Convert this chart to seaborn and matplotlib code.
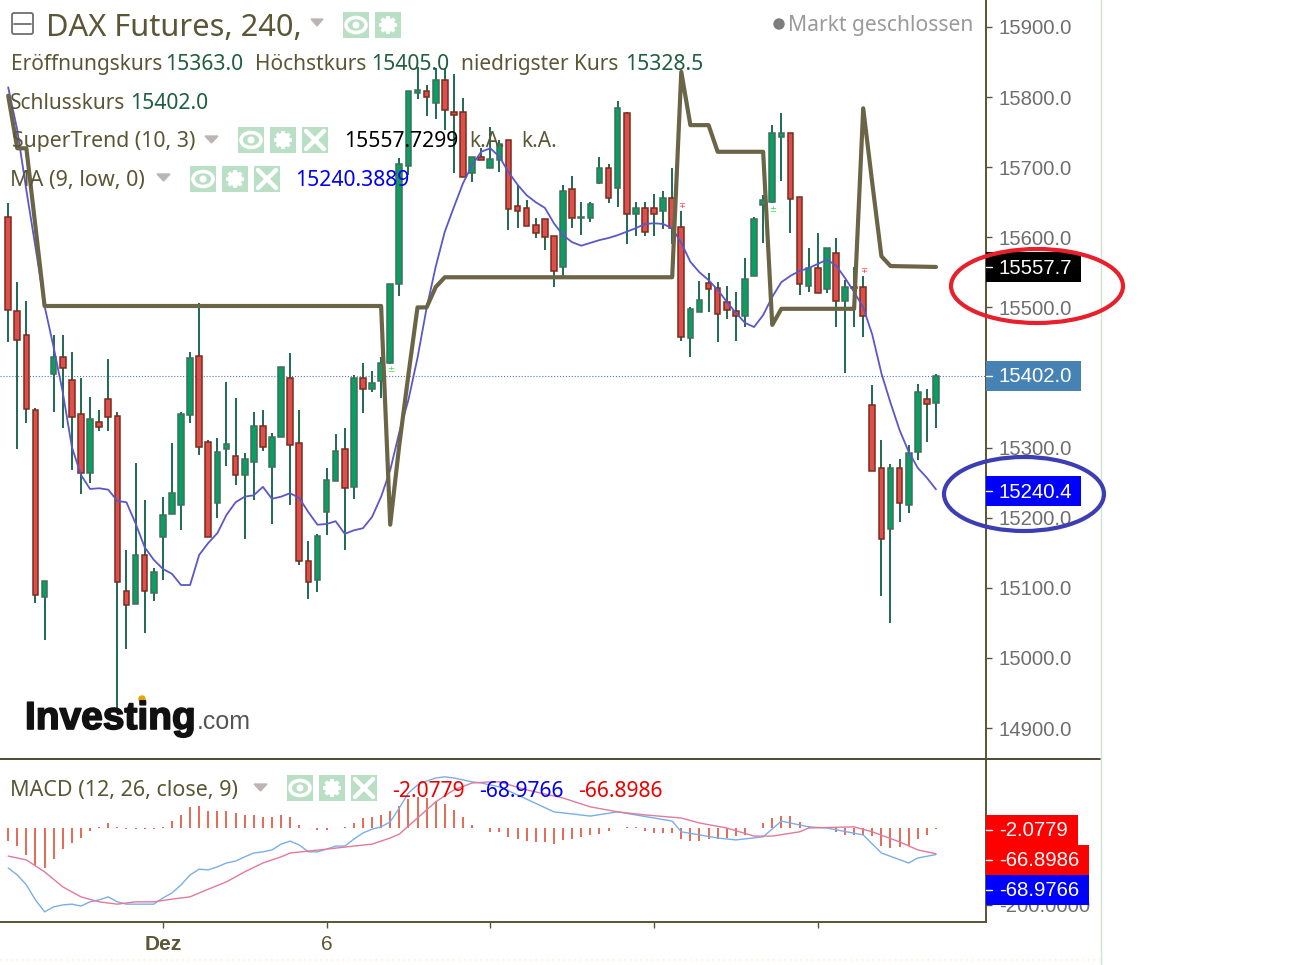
import numpy as np
import matplotlib
matplotlib.use("Agg")
import matplotlib.pyplot as plt
import matplotlib.patheffects as pe
from matplotlib.patches import Rectangle, Ellipse, Circle, Polygon, FancyBboxPatch
import seaborn as sns

opens = [15629,15495,15461,15353,15087,15405,15429,15396,15348,15264,15336,15369,15345,15095,15077,15147,15093,15172,15205,15218,15346,15431,15308,15221,15298,15288,15261,15279,15331,15272,15315,15399,15307,15138,15111,15208,15252,15298,15244,15399,15384,15395,15421,15533,15702,15806,15809,15791,15824,15779,15779,15692,15715,15699,15710,15739,15645,15642,15617,15626,15602,15558,15669,15627,15627,15677,15699,15670,15777,15633,15642,15642,15637,15656,15615,15456,15493,15535,15528,15508,15495,15488,15545,15646,15650,15743,15749,15657,15530,15556,15526,15578,15509,15529,15529,15361,15271,15184,15271,15218,15294,15369,15363]
highs = [15649,15536,15509,15356,15110,15461,15461,15436,15399,15372,15353,15426,15351,15154,15278,15225,15128,15229,15307,15351,15436,15506,15311,15314,15394,15371,15292,15351,15353,15321,15415,15435,15353,15167,15177,15271,15319,15328,15404,15421,15409,15429,15533,15713,15809,15843,15817,15841,15841,15833,15799,15715,15727,15757,15739,15739,15675,15653,15627,15626,15602,15675,15687,15650,15650,15715,15704,15794,15779,15650,15650,15662,15666,15699,15637,15500,15538,15549,15536,15530,15522,15570,15629,15660,15760,15777,15749,15657,15585,15606,15585,15599,15539,15558,15545,15389,15311,15277,15284,15304,15391,15384,15405]
lows = [15451,15298,15335,15078,15026,15351,15328,15268,15234,15249,15324,15324,14928,15013,15077,15035,15081,15111,15205,15182,15335,15289,15172,15200,15274,15247,15170,15225,15295,15191,15315,15218,15132,15084,15094,15175,15252,15154,15227,15349,15379,15371,15419,15516,15689,15797,15773,15769,15753,15692,15686,15679,15710,15699,15693,15610,15613,15616,15599,15582,15529,15542,15613,15603,15622,15676,15649,15643,15590,15602,15602,15602,15612,15590,15452,15429,15493,15493,15451,15483,15452,15472,15545,15592,15649,15680,15606,15518,15522,15520,15520,15472,15406,15472,15458,15267,15088,15050,15194,15207,15282,15308,15328.5]
closes = [15496,15454,15355,15090,15110,15429,15413,15344,15264,15341,15329,15344,15108,15075,15147,15095,15122,15204,15235,15348,15428,15301,15172,15294,15305,15261,15284,15331,15301,15315,15415,15304,15138,15108,15174,15254,15295,15242,15399,15384,15392,15421,15533,15704,15809,15810,15800,15824,15782,15774,15686,15715,15710,15712,15733,15640,15637,15616,15606,15600,15552,15666,15627,15629,15647,15699,15656,15784,15633,15642,15607,15633,15656,15613,15458,15498,15510,15526,15491,15496,15488,15540,15626,15653,15749,15749,15655,15533,15556,15520,15585,15509,15529,15528,15488,15267,15170,15271,15221,15292,15379,15362,15402]

ma_low = [15814,15753,15667,15586,15502,15443,15379,15301,15261,15241,15242,15240,15224,15222,15192,15158,15140,15127,15120,15104,15104,15147,15164,15178,15204,15222,15230,15232,15244,15227,15230,15235,15228,15208,15190,15191,15195,15177,15182,15185,15201,15230,15268,15322,15368,15428,15499,15558,15608,15643,15677,15703,15722,15727,15715,15693,15675,15660,15650,15642,15620,15603,15593,15588,15592,15596,15599,15603,15608,15613,15619,15620,15619,15613,15592,15565,15550,15539,15525,15508,15492,15478,15472,15489,15515,15536,15545,15552,15556,15562,15568,15560,15542,15522,15500,15461,15406,15364,15325,15294,15271,15257,15240.4]

st_bars = [0,1,2,3,4,41,42,43,44,45,46,47,48,73,74,75,77,78,83,84,85,93,94,95,96,97,102]
st_vals = [15802,15727,15727,15615,15502,15502,15190,15304,15404,15500,15500,15529,15543,15543,15836,15760,15760,15722,15722,15475,15498,15498,15784,15677,15573,15559,15557.7]

macd_bars = list(range(0,55)) + [56,60,64,67,71,73,74,78,80,83,85,88,90,94,96,99,100,102]
macd_vals = [-104,-122,-148,-187,-218,-205,-200,-198,-203,-192,-187,-179,-192,-198,-198,-198,-198,-182,-169,-148,-122,-107,-109,-101,-91,-86,-75,-65,-62,-57,-42,-34,-44,-62,-62,-55,-47,-47,-29,-13,-3,3,16,52,91,112,122,130,133,130,125,120,117,112,107,86,42,31,42,26,18,-10,-26,-31,-23,18,3,0,-18,-65,-91,-78,-69]
sig_bars = [0,2,4,6,8,10,12,14,16,18,20,22,24,26,28,30,31,33,35,38,40,42,43,45,47,49,51,53,54,57,61,64,67,70,74,76,79,82,84,87,88,93,95,98,100,102]
sig_vals = [-73,-83,-114,-153,-179,-192,-198,-192,-192,-185,-179,-159,-140,-114,-91,-75,-65,-60,-55,-47,-42,-26,-16,26,68,99,117,120,120,99,78,55,42,34,26,13,0,-21,-21,-10,0,3,-10,-36,-57,-66.9]
hist_vals = [-35,-46,-70,-95,-105,-80,-54,-39,-26,-9,2,13,2,-3,-3,-3,-3,2,19,35,54,58,43,43,43,39,35,35,29,29,35,29,9,0,-5,-5,0,3,13,25,29,35,43,58,75,80,78,71,62,47,29,9,0,-10,-10,-23,-28,-35,-36,-37,-42,-30,-29,-23,-17,-16,-9,0,2,2,-9,-13,-13,-13,-28,-33,-33,-28,-28,-26,-22,-19,0,13,26,30,30,16,4,0,0,-10,-17,-17,-17,-22,-46,-52,-50,-48,-29,-17,-2]

price_ticks = [14900,15000,15100,15200,15300,15500,15600,15700,15800,15900]
sell_bars, sell_prices = [74,94], [15645,15553]
buy_bars, buy_prices = [42,84], [15412,15639]
date_ticks, date_labels = [17,35,53,71,89], ["Dez","6","","",""]

TXT="#5b5635"; VAL="#1f5e3e"; AXC="#5a5436"; TICK="#6e6e6e"
UP="#0b9e62"; UPE="#3f6f5c"; DN="#dc4f4d"; DNE="#7a2c1c"; WICK="#1d6a50"
sns.set_theme(style="white")
plt.rcParams["font.family"]=["Noto Sans","DejaVu Sans"]
W,H=1315,965
fig=plt.figure(figsize=(W/100,H/100),dpi=100,facecolor="white")
ax=fig.add_axes([0,(H-759)/H,986/W,759/H])
mx=fig.add_axes([0,(H-922)/H,986/W,(922-760)/H])
bars=np.arange(len(opens))
o,h,l,c=map(np.array,(opens,highs,lows,closes))
up=c>=o
ax.axhline(closes[-1],color="#5577bb",ls=":",lw=0.8,zorder=1)
ax.vlines(bars,l,h,color=WICK,lw=1.4,zorder=2)
ax.bar(bars[up],(c-o)[up],bottom=o[up],width=0.62,color=UP,edgecolor=UPE,linewidth=1.1,zorder=3)
ax.bar(bars[~up],(c-o)[~up],bottom=o[~up],width=0.62,color=DN,edgecolor=DNE,linewidth=1.1,zorder=3)
sns.lineplot(x=bars,y=ma_low,ax=ax,color="#5a58c8",linewidth=1.3,errorbar=None,zorder=4)
sns.lineplot(x=st_bars,y=st_vals,ax=ax,color="#6b6548",linewidth=3.0,errorbar=None,zorder=5)
for b,p in zip(sell_bars,sell_prices):
    ax.text(b,p,"∓",color="#ee3344",fontsize=6,ha="center",va="center",family="DejaVu Sans",zorder=6)
for b,p in zip(buy_bars,buy_prices):
    ax.text(b,p,"±",color="#44dd55",fontsize=6,ha="center",va="center",family="DejaVu Sans",zorder=6)
xl=(-0.9,107.5)
ax.set_xlim(xl); ax.set_ylim(14855.8,15938.5)
ax.set(xlabel="",ylabel="")
ax.yaxis.tick_right(); ax.set_yticks(price_ticks)
ax.set_yticklabels([f"{v:.1f}" for v in price_ticks],family="Liberation Sans",fontsize=14.7,color=TICK)
ax.tick_params(axis="y",length=4.3,width=1,color=AXC,pad=5,right=True)
ax.set_xticks([])

mx.vlines(bars,0,hist_vals,color="#e0604a",lw=1.3,zorder=2)
sns.lineplot(x=macd_bars,y=macd_vals,ax=mx,color="#7aaee8",linewidth=1.0,errorbar=None,zorder=3)
sns.lineplot(x=sig_bars,y=sig_vals,ax=mx,color="#e27a9a",linewidth=1.0,errorbar=None,zorder=4)
mx.set_xlim(xl); mx.set_ylim(-244.4,176.8); mx.set(xlabel="",ylabel="")
mx.yaxis.tick_right(); mx.set_yticks([-200]); mx.set_yticklabels(["-200.0000"],family="Liberation Sans",fontsize=14.7,color=TICK)
mx.tick_params(axis="y",length=4.3,width=1,color=AXC,pad=5,right=True)
mx.set_xticks(date_ticks); mx.set_xticklabels(date_labels,fontsize=15,color=TXT,family="Liberation Sans")
mx.get_xticklabels()[0].set_fontweight("bold")
mx.tick_params(axis="x",length=4,width=1,color=AXC,pad=5,bottom=True)
for a in (ax,mx):
    for s in a.spines.values(): s.set_visible(False)
    a.spines["right"].set_visible(True); a.spines["right"].set_color(AXC); a.spines["right"].set_linewidth(1.4)
    a.patch.set_alpha(0)
mx.spines["bottom"].set_visible(True); mx.spines["bottom"].set_color(AXC); mx.spines["bottom"].set_linewidth(1.4)

ov=fig.add_axes([0,0,1,1],zorder=10); ov.set_xlim(0,W); ov.set_ylim(H,0); ov.axis("off")
ov.plot([0,1100],[759,759],color="#4d4a30",lw=1.4)
ov.plot([1101,1101],[0,H],color="#cfe5d0",lw=1)
ov.plot([0,1100],[960,960],color="#fff3e0",lw=1.5,ls=":")

def t(x,y,s,col=TXT,size=15.0,**k):
    k.setdefault("va","baseline"); k.setdefault("ha","left")
    return ov.text(x,y,s,color=col,fontsize=size,**k)
def tri(x0,x1,y):
    ov.add_patch(Polygon([(x0,y-4),(x1,y-4),((x0+x1)/2,y+3)],color="#bdb5b5"))
def icon(x,y,kind,w=26):
    ov.add_patch(Rectangle((x,y),w,w,color="#b9dfc4",lw=0))
    cx,cy=x+w/2,y+w/2
    if kind=="eye":
        ov.add_patch(Ellipse((cx,cy),20,15,fc="none",ec="white",lw=2.6))
        ov.add_patch(Circle((cx,cy),2.8,color="white"))
    elif kind=="gear":
        for a in np.deg2rad(np.arange(0,180,45)):
            dx,dy=9*np.cos(a),9*np.sin(a)
            ov.plot([cx-dx,cx+dx],[cy-dy,cy+dy],color="white",lw=2.6,solid_capstyle="butt")
        ov.add_patch(Circle((cx,cy),6.5,color="white"))
        ov.add_patch(Circle((cx,cy),2.6,color="#b9dfc4"))
    else:
        ov.plot([cx-9,cx+9],[cy-9,cy+9],color="white",lw=3.2)
        ov.plot([cx-9,cx+9],[cy+9,cy-9],color="white",lw=3.2)

ov.add_patch(FancyBboxPatch((12,13),21,21,boxstyle="round,pad=0,rounding_size=2",fc="white",ec="#6e6e6e",lw=1.3))
ov.plot([14,31],[23.5,23.5],color="#6e6e6e",lw=1.3)
t(46,36,"DAX Futures, 240,",size=22.2)
tri(311,323,23); icon(343,12,"eye"); icon(375,12,"gear")
ov.add_patch(Circle((779,24),5,color="#7d7d7d"))
t(973,31,"Markt geschlossen","#9a9a9a",ha="right",size=15.2)
t(11,70,"Eröffnungskurs"); t(165,70,"15363.0",VAL,size=15.2)
t(255,70,"Höchstkurs"); t(371,70,"15405.0",VAL,size=15.2)
t(461,70,"niedrigster Kurs"); t(625,70,"15328.5",VAL,size=15.2)
t(10,109,"Schlusskurs"); t(130,109,"15402.0",VAL,size=15.2)
t(12,147,"SuperTrend (10, 3)",size=15.3); tri(205,218,140)
for x,k in zip((238,270,302),("eye","gear","x")): icon(x,127,k)
t(344,147,"15557.7299","black",size=15.2); t(469,147,"k.A."); t(521,147,"k.A.")
t(10,186,"MA (9, low, 0)",size=15.5); tri(157,170,178)
for x,k in zip((190,222,254),("eye","gear","x")): icon(x,166,k)
t(295,186,"15240.3889","#0000ee",size=15.2)
t(10,796,"MACD (12, 26, close, 9)",size=15.5); tri(254,267,788)
for x,k in zip((287,319,351),("eye","gear","x")): icon(x,775,k)
t(392,797,"-2.0779","#ee0000",size=15.2); t(479,797,"-68.9766","#0000ee",size=15.2); t(578,797,"-66.8986","#ee0000",size=15.2)

logo=t(25,729,"Investing","#111111",size=28,family="Liberation Sans",weight="bold")
logo.set_path_effects([pe.withStroke(linewidth=1.2,foreground="#111111")])
t(197,729,".com","#555555",size=18,family="Liberation Sans")
ov.add_patch(Circle((142,699),3,color="#e8a200"))

def box(y0,y1,x1,col,s):
    ov.add_patch(Rectangle((986,y0),x1-986,y1-y0,color=col,lw=0,zorder=5))
    ov.plot([986,992],[(y0+y1)/2]*2,color="white",lw=1,zorder=6)
    ov.text(999,(y0+y1)/2+1,s,color="white",fontsize=14.7,family="Liberation Sans",va="center",ha="left",zorder=6)
box(252,282,1081,"black","15557.7")
box(361,391,1081,"#4682b4","15402.0")
box(476,506,1081,"#0000ff","15240.4")
box(815,845,1078,"#ff0000","-2.0779")
box(845,875,1089,"#ff0000","-66.8986")
box(875,905,1089,"#0000ff","-68.9766")
ov.add_patch(Ellipse((1037,286),172,74,fc="none",ec="#e8202c",lw=3,zorder=7))
ov.add_patch(Ellipse((1024,494),160,74,fc="none",ec="#3d3db4",lw=3,zorder=7))
fig.savefig("out.png",dpi=100,facecolor="white")
